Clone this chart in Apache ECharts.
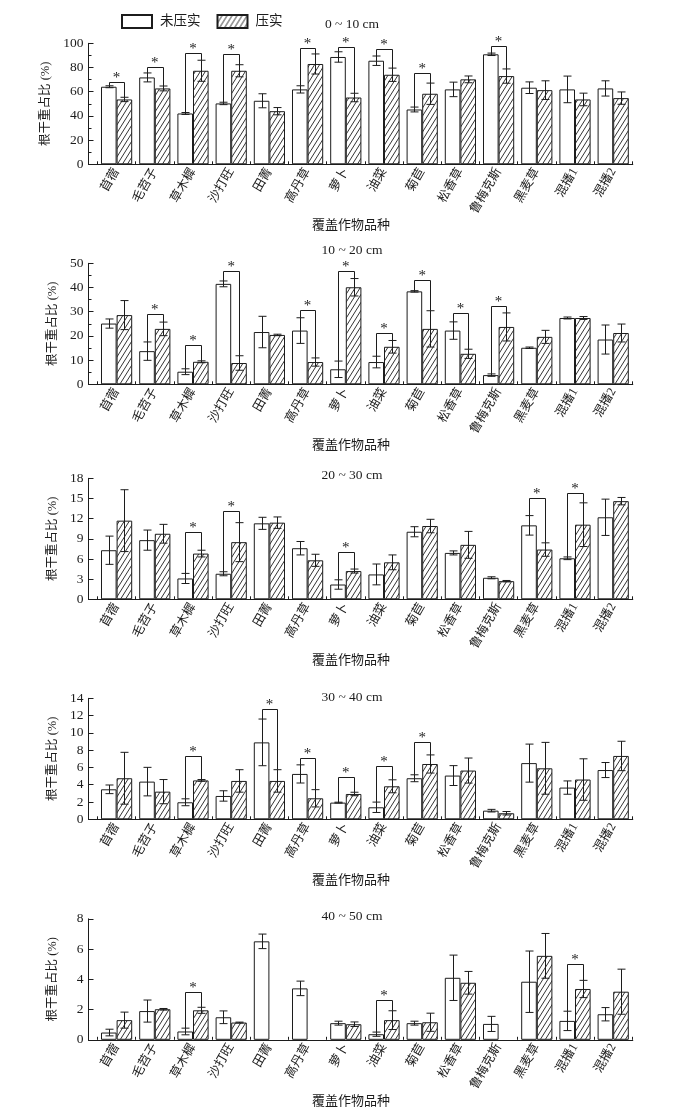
<!DOCTYPE html>
<html><head><meta charset="utf-8">
<script src="https://cdn.jsdelivr.net/npm/echarts@6/dist/echarts.min.js"></script>
<style>html,body{margin:0;padding:0;background:#fff}#c{width:693px;height:1113px}</style>
</head><body><div id="c"></div>
<script>
// ---------------- data ----------------
const categories = ['苜蓿','毛苕子','草木樨','沙打旺','田菁','高丹草','萝卜','油菜','菊苣','松香草','鲁梅克斯','黑麦草','混播1','混播2'];
const seriesNames = ['未压实','压实'];
const depthTitles = ['0 ~ 10 cm','10 ~ 20 cm','20 ~ 30 cm','30 ~ 40 cm','40 ~ 50 cm'];
const yMax = [100, 50, 18, 14, 8];
const yInterval = [20, 10, 3, 2, 2];

// 0-10 cm
const uncomp1    = [64.1, 71.8, 42.0, 50.3, 52.5, 61.9, 88.7, 85.6, 45.3, 61.9, 90.9, 63.3, 61.9, 62.7];
const uncompErr1 = [0.8, 3.7, 0.8, 1.0, 5.8, 3.0, 4.3, 3.9, 2.0, 6.0, 1.0, 4.8, 11.0, 6.3];
const comp1      = [53.6, 62.7, 77.3, 77.3, 43.9, 82.9, 55.2, 74.0, 58.3, 70.2, 72.9, 61.3, 53.6, 54.7];
const compErr1   = [1.8, 2.0, 8.7, 5.0, 3.0, 8.3, 3.5, 5.5, 8.8, 2.8, 5.9, 7.7, 5.2, 5.1];
const sig1       = [[0,68.2],[1,80.1],[2,91.7],[3,90.9],[5,95.9],[6,97.2],[7,95.0],[8,75.1],[10,97.8]];
// 10-20 cm
const uncomp2    = [25.1, 13.7, 5.2, 41.5, 21.6, 22.2, 6.2, 9.2, 38.4, 22.2, 3.8, 15.1, 27.4, 18.5];
const uncompErr2 = [1.9, 3.8, 1.2, 1.2, 6.5, 5.3, 3.4, 2.4, 0.3, 3.6, 0.5, 0.3, 0.4, 6.0];
const comp2      = [28.6, 22.9, 9.3, 8.8, 20.4, 9.2, 40.1, 15.5, 22.9, 12.6, 23.7, 19.6, 27.4, 21.2];
const compErr2   = [6.0, 2.8, 0.4, 3.0, 0.3, 1.7, 3.6, 2.6, 7.5, 1.9, 5.8, 2.7, 0.6, 3.7];
const sig2       = [[1,29.0],[2,16.2],[3,47.0],[5,30.8],[6,47.0],[7,21.2],[8,43.2],[9,29.5],[10,32.5]];
// 20-30 cm
const uncomp3    = [7.3, 8.8, 3.1, 3.8, 11.3, 7.6, 2.2, 3.7, 10.05, 6.9, 3.2, 11.0, 6.1, 12.2];
const uncompErr3 = [2.1, 1.5, 0.75, 0.3, 0.9, 1.0, 0.7, 1.55, 0.75, 0.3, 0.15, 1.45, 0.2, 2.7];
const comp3      = [11.7, 9.75, 6.8, 8.5, 11.4, 5.8, 4.2, 5.5, 10.9, 8.1, 2.7, 7.4, 11.1, 14.6];
const compErr3   = [4.6, 1.4, 0.5, 2.9, 0.85, 0.9, 0.3, 1.1, 1.0, 2.0, 0.1, 1.0, 3.25, 0.55];
const sig3       = [[2,9.95],[3,13.1],[6,7.1],[11,15.1],[12,15.8]];
// 30-40 cm
const uncomp4    = [3.47, 4.36, 1.97, 2.7, 8.9, 5.25, 1.93, 1.39, 4.75, 5.06, 1.0, 6.5, 3.67, 5.7];
const uncompErr4 = [0.5, 1.65, 0.4, 0.6, 2.7, 1.05, 0.05, 0.6, 0.4, 1.15, 0.15, 2.2, 0.77, 0.87];
const comp4      = [4.75, 3.2, 4.5, 4.44, 4.44, 2.43, 2.93, 3.82, 6.4, 5.64, 0.7, 5.9, 4.6, 7.33];
const compErr4   = [3.0, 1.4, 0.1, 1.3, 1.3, 1.0, 0.2, 0.75, 1.05, 1.45, 0.2, 3.0, 2.4, 1.7];
const sig4       = [[2,7.33],[4,12.8],[5,7.07],[6,4.86],[7,6.18],[8,8.9]];
// 40-50 cm
const uncomp5    = [0.48, 1.9, 0.55, 1.49, 6.51, 3.4, 1.1, 0.37, 1.1, 4.1, 1.05, 3.84, 1.25, 1.69];
const uncompErr5 = [0.22, 0.73, 0.22, 0.42, 0.48, 0.48, 0.13, 0.14, 0.13, 1.5, 0.5, 2.03, 0.64, 0.44];
const comp5      = [1.3, 2.02, 1.95, 1.14, null, null, 1.03, 1.3, 1.16, 3.77, null, 5.55, 3.36, 3.18];
const compErr5   = [0.53, 0.05, 0.2, 0.03, null, null, 0.15, 0.62, 0.6, 0.75, null, 1.48, 0.57, 1.49];
const sig5       = [[2,3.14],[7,2.63],[12,5.04]];

// ---------------- layout / style ----------------
const uncompAll = [uncomp1, uncomp2, uncomp3, uncomp4, uncomp5];
const uncompErrAll = [uncompErr1, uncompErr2, uncompErr3, uncompErr4, uncompErr5];
const compAll = [comp1, comp2, comp3, comp4, comp5];
const compErrAll = [compErr1, compErr2, compErr3, compErr4, compErr5];
const sigAll = [sig1, sig2, sig3, sig4, sig5];
const minorOn = [true, true, false, false, false];

const FONT = "'Liberation Serif', 'Noto Sans CJK SC', serif";
const INK = '#1c1c1c';
const BW = 15.6;
const TOPS = [43.3, 263.3, 478.3, 698.3, 918.8];
const PH = 121;
const TITLE_Y = [26, 252, 477, 699, 918];
const AXIS_LEFT = 88.5, BAND_LEFT = 97.5, BAND_RIGHT = 632.3, AXIS_RIGHT = 632.8;

function makeHatch() {
  const w = 5, h = 8;
  const c = document.createElement('canvas');
  c.width = w; c.height = h;
  const ctx = c.getContext('2d');
  ctx.fillStyle = '#fff'; ctx.fillRect(0, 0, w, h);
  ctx.strokeStyle = INK; ctx.lineWidth = 0.9;
  for (let k = -1; k <= 1; k++) {
    ctx.beginPath(); ctx.moveTo(k * w, h); ctx.lineTo(k * w + w, 0); ctx.stroke();
  }
  return c;
}
const HATCH = makeHatch();

const grids = [], xAxes = [], yAxes = [], series = [], titles = [];

function errRender(offsetSign) {
  return function (params, api) {
    const i = api.value(0), v = api.value(1), e = api.value(2);
    const p = api.coord([i, v]);
    const x = Math.round(p[0] + offsetSign * BW / 2) + 0.5;
    const yt = api.coord([i, v + e])[1];
    const yb = api.coord([i, Math.max(v - e, 0)])[1];
    const cap = 4;
    const st = { stroke: INK, lineWidth: 1 };
    return { type: 'group', children: [
      { type: 'line', shape: { x1: x, y1: yt, x2: x, y2: yb }, style: st },
      { type: 'line', shape: { x1: x - cap, y1: yt, x2: x + cap, y2: yt }, style: st },
      { type: 'line', shape: { x1: x - cap, y1: yb, x2: x + cap, y2: yb }, style: st }
    ]};
  };
}

function bracketRender(params, api) {
  const i = api.value(0), lvl = api.value(1), lt = api.value(2), rt = api.value(3);
  const c = api.coord([i, lvl]);
  const xl = Math.round(c[0] - BW / 2) + 0.5, xr = Math.round(c[0] + BW / 2) + 0.5;
  const yl = Math.round(c[1]) + 0.5;
  const ylt = api.coord([i, lt])[1], yrt = api.coord([i, rt])[1];
  return { type: 'group', children: [
    { type: 'polyline', shape: { points: [[xl, ylt], [xl, yl], [xr, yl], [xr, yrt]] },
      style: { stroke: INK, lineWidth: 1, fill: null } },
    { type: 'text', x: c[0], y: yl + 3,
      style: { text: '*', fontSize: 15, fontFamily: FONT, fill: INK, align: 'center', verticalAlign: 'bottom' } }
  ]};
}

for (let p = 0; p < 5; p++) {
  const top = TOPS[p];
  const gA = 2 * p, gB = 2 * p + 1;
  grids.push({ left: AXIS_LEFT, width: AXIS_RIGHT - AXIS_LEFT, top: top, height: PH, containLabel: false });
  grids.push({ left: BAND_LEFT, width: BAND_RIGHT - BAND_LEFT, top: top, height: PH, containLabel: false });

  xAxes.push({ gridIndex: gA, type: 'value', min: 0, max: 1, show: true,
    axisLine: { show: true, lineStyle: { color: INK, width: 1 } },
    axisTick: { show: false }, axisLabel: { show: false }, splitLine: { show: false } });
  xAxes.push({ gridIndex: gB, type: 'category', data: categories, boundaryGap: true,
    axisLine: { show: true, lineStyle: { color: INK, width: 1 } },
    axisTick: { show: true, inside: true, length: 3, lineStyle: { color: INK } },
    axisLabel: { interval: 0, rotate: 60, fontSize: 12.5, color: INK, fontFamily: FONT, margin: 5 },
    splitLine: { show: false },
    name: '覆盖作物品种', nameLocation: 'middle', nameGap: 52,
    nameTextStyle: { fontSize: 13, color: INK, fontFamily: FONT, padding: [0, 28, 0, 0] } });

  yAxes.push({ gridIndex: gA, type: 'value', min: 0, max: yMax[p], interval: yInterval[p],
    axisLine: { show: true, lineStyle: { color: INK, width: 1 } },
    axisTick: { show: true, inside: true, length: 5, lineStyle: { color: INK } },
    minorTick: { show: minorOn[p], splitNumber: 2, length: 3, lineStyle: { color: INK } },
    axisLabel: { fontSize: 13.5, color: INK, fontFamily: FONT, margin: 5 },
    splitLine: { show: false },
    name: '根干重占比 (%)', nameLocation: 'middle', nameGap: 30, nameRotate: 90,
    nameTextStyle: { fontSize: 12.5, color: INK, fontFamily: FONT } });
  yAxes.push({ gridIndex: gB, type: 'value', min: 0, max: yMax[p], show: false, splitLine: { show: false } });

  titles.push({ text: depthTitles[p], left: 352, top: TITLE_Y[p] - 8, textAlign: 'center', padding: 0,
    textStyle: { fontSize: 13.5, fontWeight: 'normal', color: INK, fontFamily: FONT } });

  const unc = uncompAll[p], uncE = uncompErrAll[p], cmp = compAll[p], cmpE = compErrAll[p];
  series.push({ type: 'bar', name: seriesNames[0], xAxisIndex: gB, yAxisIndex: gB,
    data: unc, barWidth: BW, barGap: '0%', z: 2,
    itemStyle: { color: '#fff', borderColor: INK, borderWidth: 1 } });
  series.push({ type: 'bar', name: seriesNames[1], xAxisIndex: gB, yAxisIndex: gB,
    data: cmp, barWidth: BW, barGap: '0%', z: 2,
    itemStyle: { color: { image: HATCH, repeat: 'repeat' }, borderColor: INK, borderWidth: 1 } });
  series.push({ type: 'custom', name: 'errU' + p, xAxisIndex: gB, yAxisIndex: gB, z: 5,
    renderItem: errRender(-1), encode: { x: 0, y: 1 },
    data: unc.map((v, i) => v == null ? null : [i, v, uncE[i]]).filter(d => d) });
  series.push({ type: 'custom', name: 'errC' + p, xAxisIndex: gB, yAxisIndex: gB, z: 5,
    renderItem: errRender(1), encode: { x: 0, y: 1 },
    data: cmp.map((v, i) => v == null ? null : [i, v, cmpE[i]]).filter(d => d) });
  series.push({ type: 'custom', name: 'sig' + p, xAxisIndex: gB, yAxisIndex: gB, z: 6,
    renderItem: bracketRender, encode: { x: 0, y: 1 },
    data: sigAll[p].map(([i, lvl]) => [i, lvl, unc[i] + uncE[i], cmp[i] + cmpE[i]]) });
}

const chart = echarts.init(document.getElementById('c'), null, { renderer: 'canvas' });
chart.setOption({
  backgroundColor: '#fff',
  animation: false,
  textStyle: { fontFamily: FONT },
  title: titles,
  legend: { data: seriesNames, left: 121, top: 14, itemWidth: 30, itemHeight: 13, itemGap: 16, icon: 'rect',
    padding: 0, selectedMode: false,
    textStyle: { fontSize: 13.5, color: INK, fontFamily: FONT, padding: [0, 0, 0, 3] } },
  grid: grids, xAxis: xAxes, yAxis: yAxes, series: series
});
</script></body></html>
